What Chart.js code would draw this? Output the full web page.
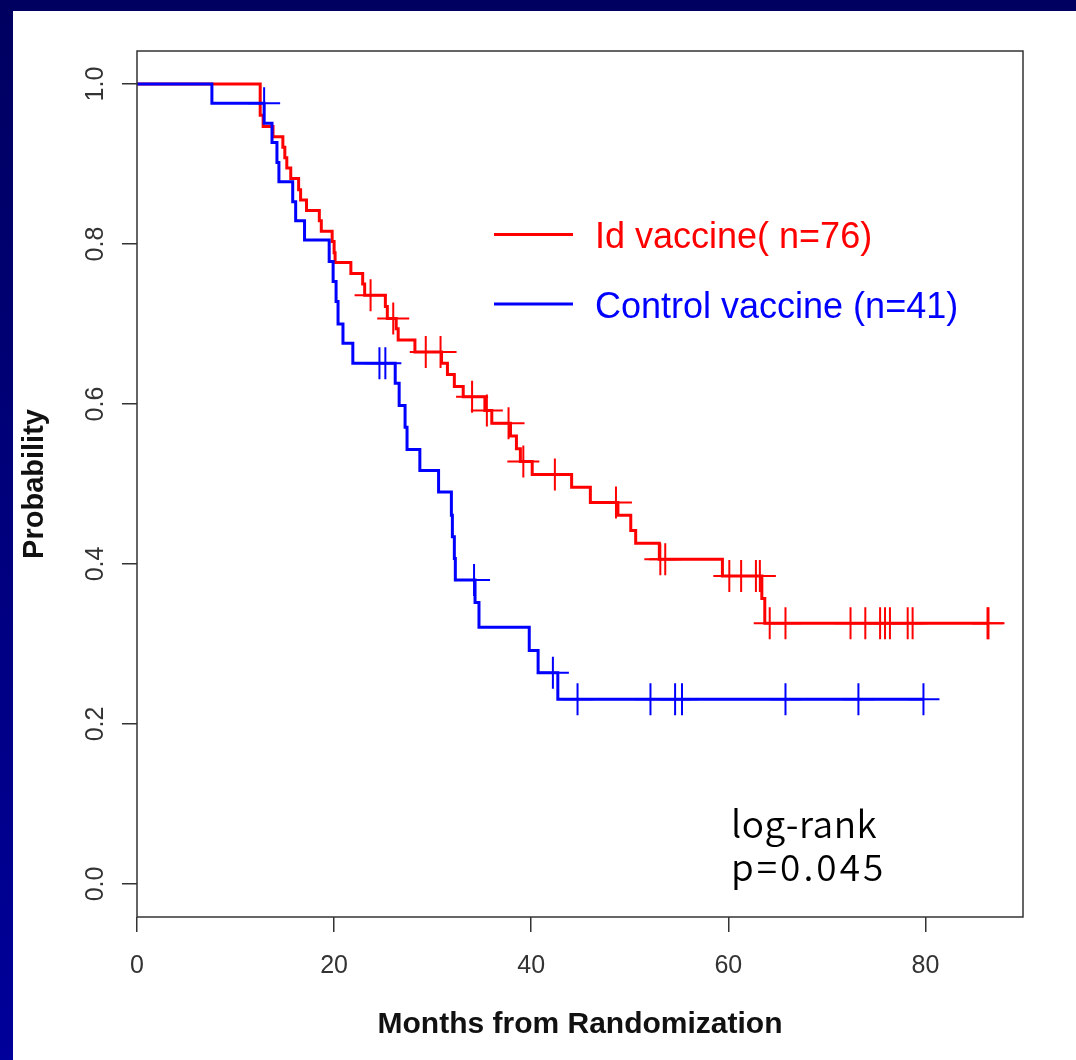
<!DOCTYPE html>
<html><head><meta charset="utf-8">
<script src="https://cdn.jsdelivr.net/npm/chart.js@4.4.1/dist/chart.umd.min.js"></script>
<style>
html,body{margin:0;padding:0;}
body{width:1076px;height:1060px;overflow:hidden;background:linear-gradient(to bottom,#000060,#00009a);position:relative;}
#panel{position:absolute;left:13px;top:11px;right:0;bottom:0;background:#fff;}
#c{position:absolute;left:0;top:0;}
</style></head><body>
<div id="panel"></div>
<canvas id="c" width="1076" height="1060"></canvas>
<script>
// ---- data ----
const seriesLabels = ['Id vaccine( n=76)', 'Control vaccine (n=41)'];
const seriesColors = ['#ff0000', '#0000ff'];

const idTimes = [0, 12.5, 12.8, 13.8, 14.8, 15.0, 15.2, 15.6, 16.4, 16.6, 17.2, 18.5, 18.7, 19.8, 20.0, 20.1, 21.7, 22.9, 23.1, 25.2, 25.4, 26.3, 26.5, 28.2, 30.9, 31.5, 32.2, 33.1, 35.3, 36.0, 37.9, 38.5, 38.9, 40.1, 44.1, 46.0, 48.8, 50.1, 50.6, 53.0, 59.4, 63.4, 63.7, 86.3];
const idSurv  = [1.0, 0.961, 0.947, 0.934, 0.921, 0.908, 0.895, 0.882, 0.868, 0.855, 0.842, 0.829, 0.816, 0.803, 0.789, 0.777, 0.763, 0.750, 0.736, 0.722, 0.707, 0.694, 0.680, 0.665, 0.651, 0.637, 0.622, 0.609, 0.592, 0.576, 0.560, 0.544, 0.528, 0.512, 0.496, 0.477, 0.461, 0.442, 0.426, 0.406, 0.385, 0.357, 0.326, 0.326];
const idCensorTimes = [23.7, 26.0, 29.3, 30.8, 34.0, 35.5, 37.7, 39.2, 42.4, 48.6, 53.1, 53.6, 60.1, 61.3, 62.8, 63.2, 64.2, 65.8, 72.4, 73.9, 75.4, 75.9, 76.4, 78.2, 78.7, 86.3, 86.4];
const idCensorSurv  = [0.736, 0.707, 0.665, 0.665, 0.609, 0.592, 0.576, 0.528, 0.512, 0.477, 0.406, 0.406, 0.385, 0.385, 0.385, 0.385, 0.326, 0.326, 0.326, 0.326, 0.326, 0.326, 0.326, 0.326, 0.326, 0.326, 0.326];

const ctrlTimes = [0, 7.6, 12.9, 13.7, 14.2, 14.4, 15.8, 16.1, 17.0, 19.5, 19.9, 20.2, 20.4, 20.9, 21.9, 26.2, 26.6, 27.2, 27.4, 28.7, 30.6, 31.9, 32.0, 32.2, 32.3, 34.3, 34.7, 39.8, 40.7, 42.7, 79.8];
const ctrlSurv  = [1.0, 0.976, 0.951, 0.927, 0.902, 0.878, 0.853, 0.829, 0.805, 0.778, 0.753, 0.728, 0.700, 0.676, 0.651, 0.626, 0.598, 0.571, 0.543, 0.517, 0.490, 0.461, 0.434, 0.407, 0.380, 0.352, 0.321, 0.292, 0.264, 0.231, 0.231];
const ctrlCensorTimes = [12.9, 24.6, 25.2, 34.2, 42.2, 44.7, 52.1, 54.6, 55.3, 65.8, 73.2, 79.8];
const ctrlCensorSurv  = [0.976, 0.651, 0.651, 0.380, 0.264, 0.231, 0.231, 0.231, 0.231, 0.231, 0.231, 0.231];

const xTicks = [0, 20, 40, 60, 80];
const xTickLabels = ['0', '20', '40', '60', '80'];
const yTicks = [0, 0.2, 0.4, 0.6, 0.8, 1.0];
const yTickLabels = ['0.0', '0.2', '0.4', '0.6', '0.8', '1.0'];
const xTitle = 'Months from Randomization';
const yTitle = 'Probability';
const noteLines = ['log-rank', 'p=0.045'];

// ---- helpers ----
const pts = (xs, ys) => xs.map((x, i) => ({x: x, y: ys[i]}));

const decorPlugin = {
  id: 'decor',
  afterDraw(chart) {
    const ctx = chart.ctx;
    const a = chart.chartArea;
    const xs = chart.scales.x, ys = chart.scales.y;
    ctx.save();
    // box
    ctx.strokeStyle = '#333';
    ctx.lineWidth = 1.5;
    ctx.strokeRect(a.left, a.top, a.right - a.left, a.bottom - a.top);
    // x tick labels
    ctx.fillStyle = '#333';
    ctx.font = '25px "Liberation Sans", Arial, sans-serif';
    ctx.textAlign = 'center';
    ctx.textBaseline = 'middle';
    xTicks.forEach((v, i) => {
      ctx.fillText(xTickLabels[i], xs.getPixelForValue(v), 966);
    });
    // y tick labels (rotated)
    yTicks.forEach((v, i) => {
      ctx.save();
      ctx.translate(96, ys.getPixelForValue(v));
      ctx.rotate(-Math.PI / 2);
      ctx.fillText(yTickLabels[i], 0, 0);
      ctx.restore();
    });
    // axis titles
    ctx.fillStyle = '#111';
    ctx.font = 'bold 30px "Liberation Sans", Arial, sans-serif';
    ctx.textBaseline = 'alphabetic';
    ctx.fillText(xTitle, (a.left + a.right) / 2, 1033);
    ctx.save();
    ctx.translate(43, (a.top + a.bottom) / 2);
    ctx.rotate(-Math.PI / 2);
    ctx.font = 'bold 29px "Liberation Sans", Arial, sans-serif';
    ctx.fillText(yTitle, 0, 0);
    ctx.restore();
    // legend
    const legY = [234.5, 304];
    const legBase = [248, 318];
    ctx.textAlign = 'left';
    ctx.font = '36px "Liberation Sans", Arial, sans-serif';
    chart.data.datasets.filter(d => d.isCurve).forEach((d, i) => {
      ctx.strokeStyle = d.borderColor;
      ctx.lineWidth = 3;
      ctx.beginPath();
      ctx.moveTo(494, legY[i]);
      ctx.lineTo(573, legY[i]);
      ctx.stroke();
      ctx.fillStyle = d.borderColor;
      ctx.fillText(d.label, 595, legBase[i]);
    });
    // note
    ctx.fillStyle = '#000';
    ctx.font = '350 37px "Noto Sans CJK JP", "Noto Sans", sans-serif';
    try { ctx.letterSpacing = '0.5px'; } catch (e) {}
    ctx.fillText(noteLines[0], 731, 838);
    try { ctx.letterSpacing = '3px'; } catch (e) {}
    ctx.fillText(noteLines[1], 731, 881);
    try { ctx.letterSpacing = '0px'; } catch (e) {}
    ctx.restore();
  }
};

new Chart(document.getElementById('c'), {
  type: 'line',
  data: {
    datasets: [
      { label: seriesLabels[0], isCurve: true, data: pts(idTimes, idSurv), borderColor: seriesColors[0], borderWidth: 3, stepped: true, pointRadius: 0, fill: false, order: 4, borderJoinStyle: 'miter' },
      { label: seriesLabels[1], isCurve: true, data: pts(ctrlTimes, ctrlSurv), borderColor: seriesColors[1], borderWidth: 3, stepped: true, pointRadius: 0, fill: false, order: 3, borderJoinStyle: 'miter' },
      { label: 'censor1', data: pts(idCensorTimes, idCensorSurv), showLine: false, pointStyle: 'cross', pointRadius: 16, pointBorderWidth: 2, borderColor: seriesColors[0], pointBorderColor: seriesColors[0], order: 2 },
      { label: 'censor2', data: pts(ctrlCensorTimes, ctrlCensorSurv), showLine: false, pointStyle: 'cross', pointRadius: 16, pointBorderWidth: 2, borderColor: seriesColors[1], pointBorderColor: seriesColors[1], order: 1 }
    ]
  },
  options: {
    responsive: false,
    animation: false,
    devicePixelRatio: 1,
    events: [],
    layout: { padding: { left: 0, top: 51, right: 53, bottom: 0 } },
    plugins: { legend: { display: false }, tooltip: { enabled: false } },
    scales: {
      x: {
        type: 'linear', min: 0, max: 89.9,
        afterBuildTicks: s => { s.ticks = xTicks.map(v => ({value: v})); },
        afterFit: s => { s.height = 143; },
        ticks: { display: false },
        grid: { display: true, drawOnChartArea: false, drawTicks: true, tickLength: 15, color: '#333', lineWidth: 1.5 },
        border: { display: false }
      },
      y: {
        type: 'linear', min: -0.0413, max: 1.0413,
        afterBuildTicks: s => { s.ticks = yTicks.map(v => ({value: v})); },
        afterFit: s => { s.width = 137; },
        ticks: { display: false },
        grid: { display: true, drawOnChartArea: false, drawTicks: true, tickLength: 15, color: '#333', lineWidth: 1.5 },
        border: { display: false }
      }
    }
  },
  plugins: [decorPlugin]
});
</script>
</body></html>
